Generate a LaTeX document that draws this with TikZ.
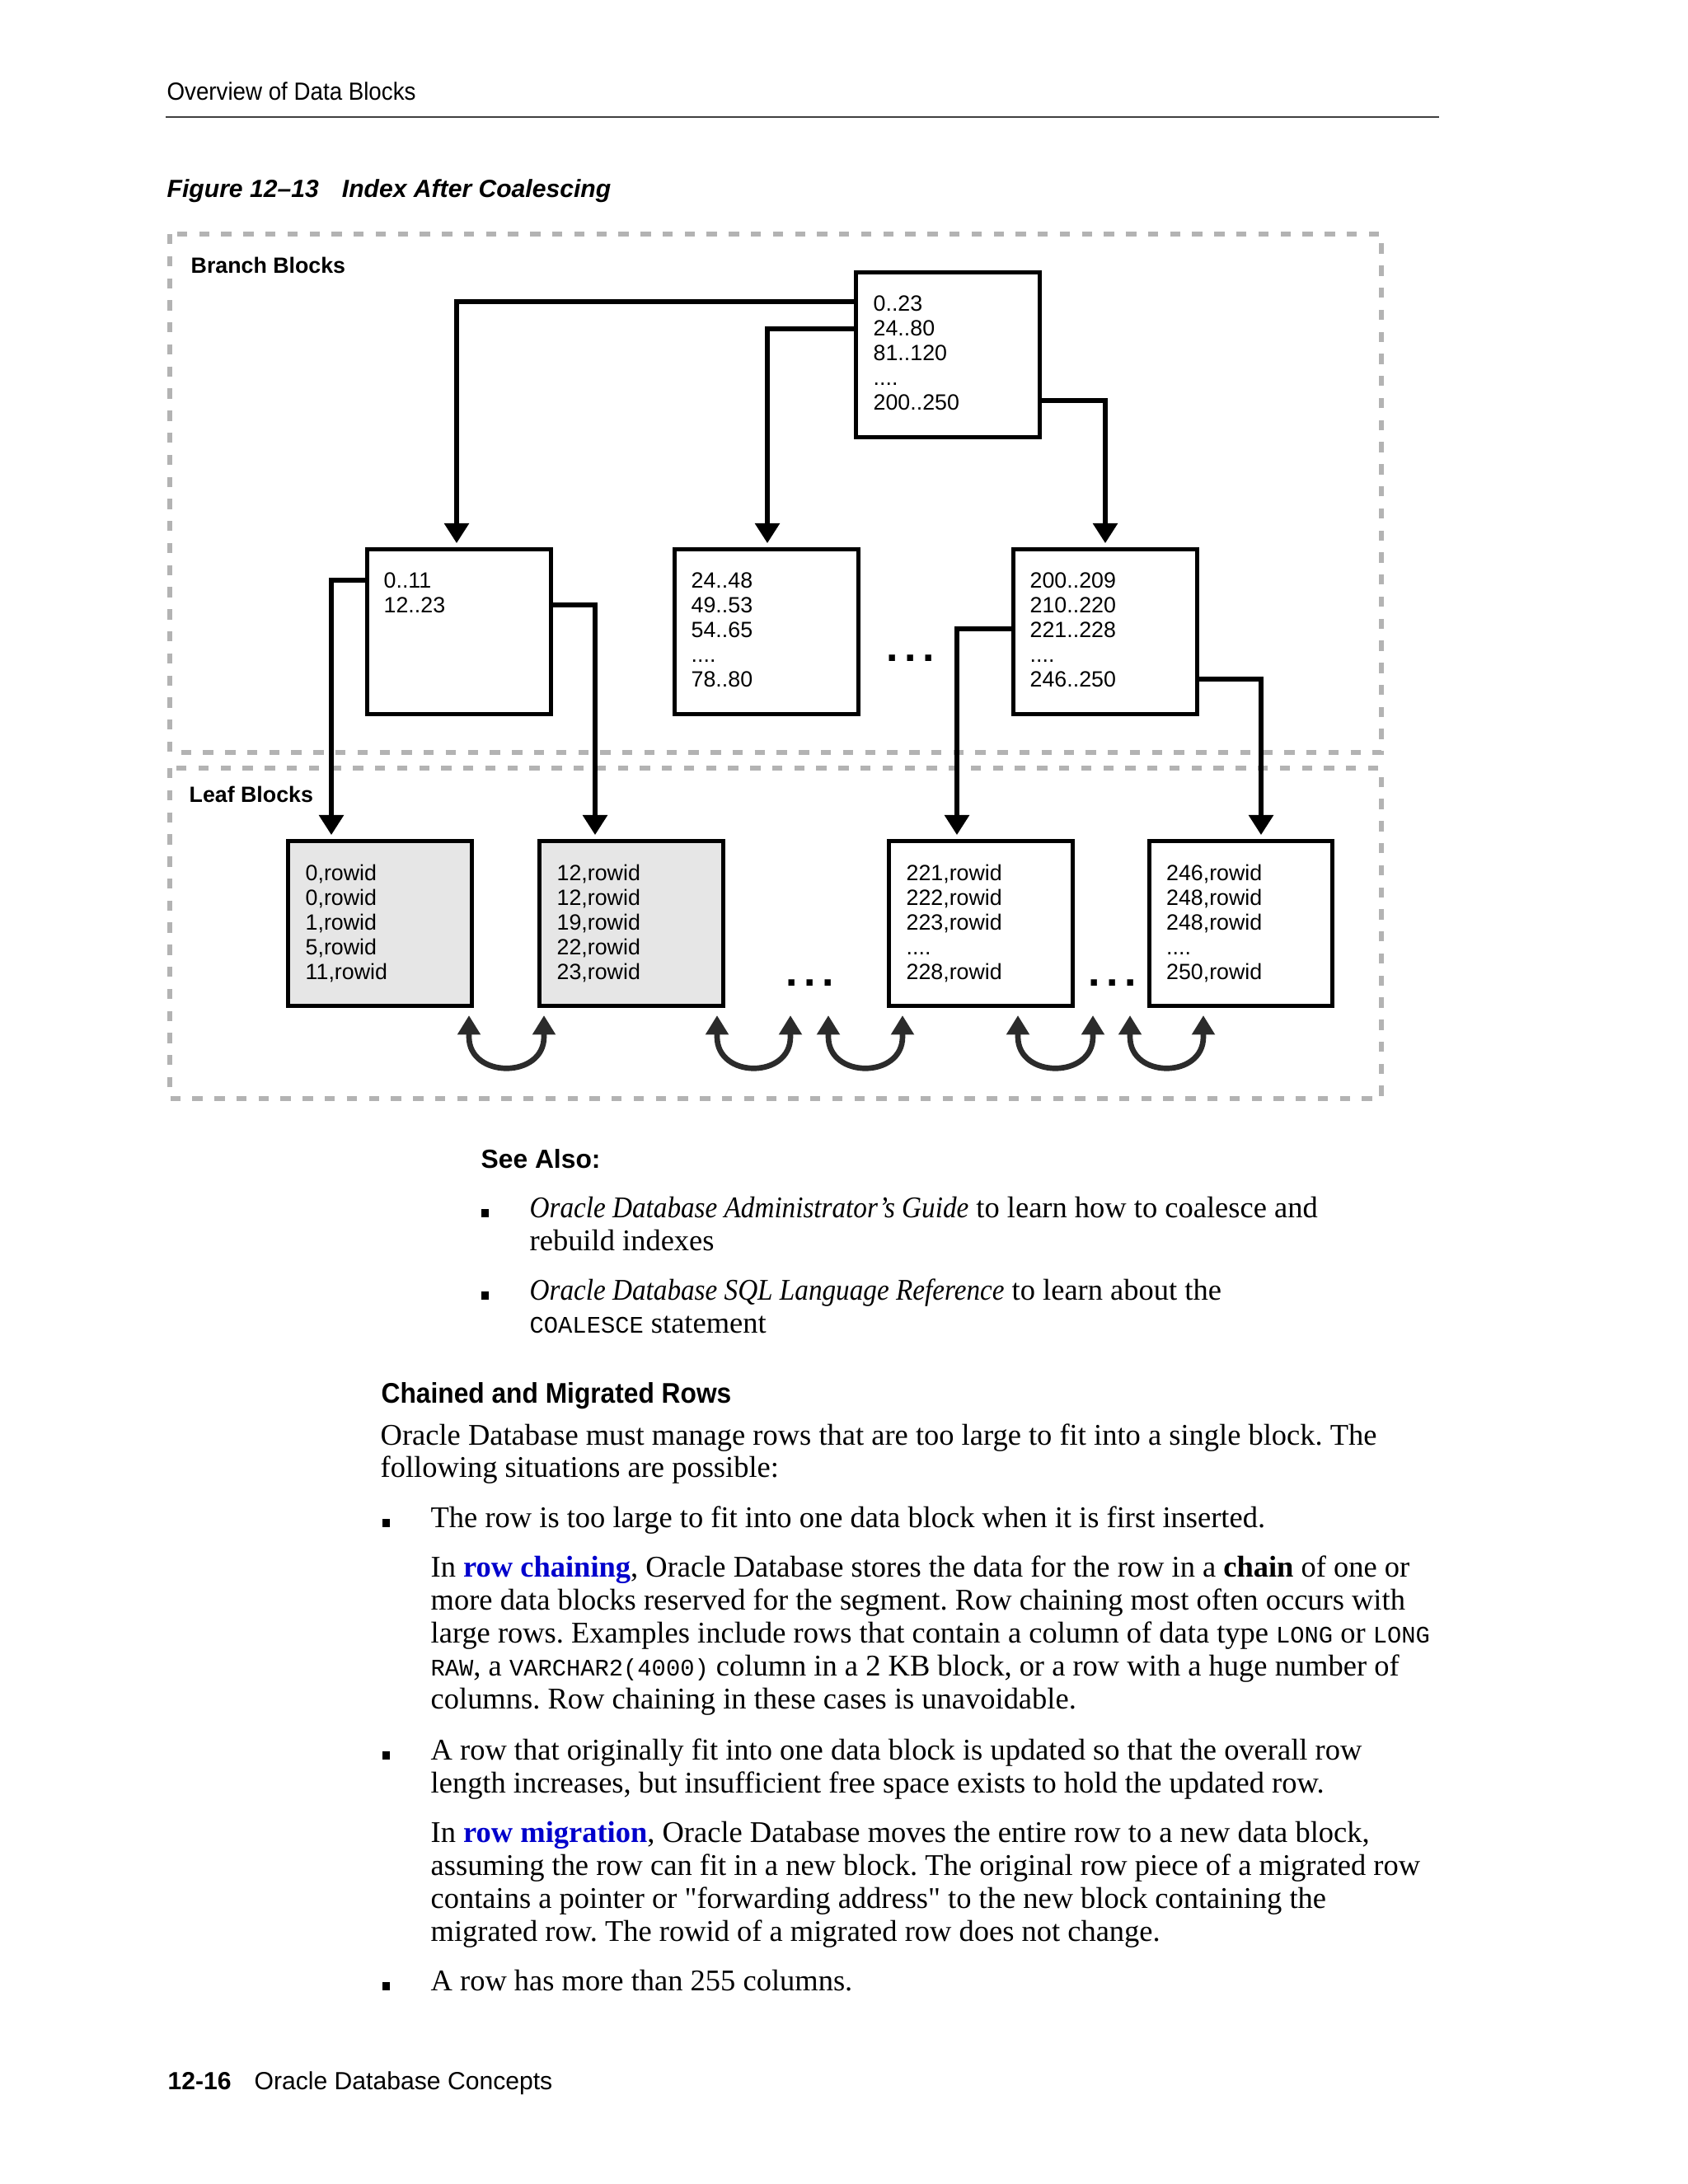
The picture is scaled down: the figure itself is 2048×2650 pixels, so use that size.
\documentclass[tikz,border=0pt]{standalone}
\usepackage{fontspec}
\setmainfont{Liberation Serif}[ItalicFeatures={FakeStretch=0.91}]
\setsansfont{Liberation Sans}
\setmonofont{Liberation Mono}
\newfontfamily\narrowsf{Liberation Sans}[FakeStretch=0.92]
\newfontfamily\rawserif{Liberation Serif}
\usepackage{xcolor}
\usetikzlibrary{arrows.meta,positioning,calc}
\definecolor{dashgray}{HTML}{B3B3B3}
\definecolor{leafgray}{HTML}{E6E6E6}
\definecolor{ugray}{HTML}{2B2B2B}
\definecolor{linkblue}{HTML}{0000CC}
\newcommand{\code}[1]{{\ttfamily\fontsize{8.6}{12}\selectfont #1}}
\newcommand{\term}[1]{\textcolor{linkblue}{\textbf{#1}}}
\newcommand{\sq}{{\rawserif"}}
\frenchspacing

\begin{document}
\begin{tikzpicture}[x=0.2988pt,y=-0.2988pt,
  blk/.style={draw,line width=1.6pt,minimum width=66.5pt,minimum height=59.6pt,inner sep=0pt},
  rows/.style={font=\sffamily\fontsize{8}{8.96}\selectfont,align=left,anchor=north west,inner sep=0pt},
  zone/.style={draw=dashgray,line width=1.8pt,dash pattern=on 3.7pt off 4.3pt},
  zonelabel/.style={font=\sffamily\bfseries\fontsize{8}{9}\selectfont,anchor=base west,inner sep=0pt},
  link/.style={draw,line width=1.6pt,-{Triangle[width=8.7pt,length=7.2pt]},shorten >=1.5pt},
  relink/.style={draw=ugray,line width=2pt,{Triangle[width=8pt,length=7pt]}-{Triangle[width=8pt,length=7pt]}},
  dotrow/.style={font=\sffamily\bfseries\fontsize{15.5}{16}\selectfont,anchor=base,inner sep=0pt},
  body/.style={anchor=base west,inner sep=0pt,font=\fontsize{10.9}{12}\selectfont},
  pagehead/.style={anchor=base west,inner sep=0pt,font=\narrowsf\fontsize{9}{10}\selectfont},
  figcap/.style={anchor=base west,inner sep=0pt,font=\sffamily\bfseries\itshape\fontsize{9}{11}\selectfont},
  sechead/.style={anchor=base west,inner sep=0pt,font=\sffamily\bfseries\fontsize{9.5}{11}\selectfont}]
  \useasboundingbox (0,0) rectangle (2048,2650);
  \fill[white] (0,0) rectangle (2048,2650);

  % page header
  \node[pagehead] (runhead) at (202,121) {Overview of Data Blocks};
  \draw[black!75,line width=0.6pt] (201,141.5) -- (1746,141.5);
  \node[figcap] (figtitle) at (202,239) {Figure 12--13\hspace{8.4pt}Index After Coalescing};

  % zones
  \draw[zone] (206,284) rectangle (1676,913);
  \draw[zone] (206,932) rectangle (1676,1333);
  \node[zonelabel] (branchlbl) at (231,331) {Branch Blocks};
  \node[zonelabel] (leaflbl) at (229,973) {Leaf Blocks};

  % branch blocks
  \node[blk] (rootblk) at (1150,430.5) {};
  \node[blk] (ablk) at (557,766.5) {};
  \node[blk] (bblk) at (930,766.5) {};
  \node[blk] (cblk) at (1341,766.5) {};
  \node[rows] (roottxt) at ($(rootblk.north west)+(23,30.5)$) {0..23\\24..80\\81..120\\....\\200..250};
  \node[rows] (atxt) at ($(ablk.north west)+(22,30.5)$) {0..11\\12..23};
  \node[rows] (btxt) at ($(bblk.north west)+(22,30.5)$) {24..48\\49..53\\54..65\\....\\78..80};
  \node[rows] (ctxt) at ($(cblk.north west)+(22,30.5)$) {200..209\\210..220\\221..228\\....\\246..250};
  \node[dotrow] (bcdots) at (1105,802) {.\hspace{2.3pt}.\hspace{2.3pt}.};

  % leaf blocks
  \node[blk,fill=leafgray] (leafa) at (461,1120.5) {};
  \node[blk,fill=leafgray] (leafb) at (766,1120.5) {};
  \node[blk] (leafc) at (1190,1120.5) {};
  \node[blk] (leafd) at (1505.5,1120.5) {};
  \node[rows] (leafatxt) at ($(leafa.north west)+(23,30.5)$) {0,rowid\\0,rowid\\1,rowid\\5,rowid\\11,rowid};
  \node[rows] (leafbtxt) at ($(leafb.north west)+(23,30.5)$) {12,rowid\\12,rowid\\19,rowid\\22,rowid\\23,rowid};
  \node[rows] (leafctxt) at ($(leafc.north west)+(23,30.5)$) {221,rowid\\222,rowid\\223,rowid\\....\\228,rowid};
  \node[rows] (leafdtxt) at ($(leafd.north west)+(23,30.5)$) {246,rowid\\248,rowid\\248,rowid\\....\\250,rowid};
  \node[dotrow] (bcleafdots) at (983,1196) {.\hspace{2.3pt}.\hspace{2.3pt}.};
  \node[dotrow] (cdleafdots) at (1350,1196) {.\hspace{2.3pt}.\hspace{2.3pt}.};

  % pointers
  \draw[link] ($(rootblk.north west)+(0,38)$) -| ($(ablk.north)+(-3,0)$);
  \draw[link] ($(rootblk.north west)+(0,71)$) -| ($(bblk.north)+(1,0)$);
  \draw[link] ($(rootblk.north east)+(0,158)$) -| (cblk.north);
  \draw[link] ($(ablk.north west)+(0,40)$) -| ($(leafa.north)+(-59,0)$);
  \draw[link] ($(ablk.north east)+(0,70)$) -| ($(leafb.north)+(-44,0)$);
  \draw[link] ($(cblk.north west)+(0,99)$) -| ($(leafc.north)+(-29,0)$);
  \draw[link] ($(cblk.north east)+(0,160)$) -| ($(leafd.north)+(24.5,0)$);

  % sibling links
  \foreach \i/\a/\b in {1/569/660,2/870/959,3/1005/1095,4/1235/1326,5/1371/1460}{
    \coordinate (ul\i) at (\a,1232);
    \coordinate (ur\i) at (\b,1232);
    \draw[relink] (ul\i) -- ++(0,26) .. controls +(0,51) and +(0,51) .. ($(ur\i)+(0,26)$) -- (ur\i);
  }

  % see also
  \node[sechead] (seealso) at (583,1417) {See Also:};
  \node[body] (sa1) at (642,1477) {\textit{Oracle Database Administrator’s Guide} to learn how to coalesce and};
  \node[body] (sa2) at (642,1517) {rebuild indexes};
  \node[body] (sa3) at (642,1577) {\textit{Oracle Database SQL Language Reference} to learn about the};
  \node[body] (sa4) at (642,1617) {\code{COALESCE} statement};
  \foreach \y in {1477,1577}{\fill (584,\y) rectangle ++(9,-10);}

  % chained and migrated rows
  \node[sechead,font=\narrowsf\bfseries\fontsize{10.3}{12}\selectfont] (rowshead) at (462,1702) {Chained and Migrated Rows};
  \node[body] (p1) at (461,1753) {Oracle Database must manage rows that are too large to fit into a single block. The};
  \node[body] (p2) at (461,1792) {following situations are possible:};
  \node[body] (ba) at (522,1853) {The row is too large to fit into one data block when it is first inserted.};
  \node[body] (ca) at (522,1913) {In \term{row chaining}, Oracle Database stores the data for the row in a \textbf{chain} of one or};
  \node[body] (cb) at (522,1953) {more data blocks reserved for the segment. Row chaining most often occurs with};
  \node[body] (cc) at (522,1993) {large rows. Examples include rows that contain a column of data type \code{LONG} or \code{LONG}};
  \node[body] (cd) at (522,2033) {\code{RAW}, a \code{VARCHAR2(4000)} column in a 2 KB block, or a row with a huge number of};
  \node[body] (ce) at (522,2073) {columns. Row chaining in these cases is unavoidable.};
  \node[body] (bb) at (522,2135) {A row that originally fit into one data block is updated so that the overall row};
  \node[body] (bb2) at (522,2175) {length increases, but insufficient free space exists to hold the updated row.};
  \node[body] (ma) at (522,2235) {In \term{row migration}, Oracle Database moves the entire row to a new data block,};
  \node[body] (mb) at (522,2275) {assuming the row can fit in a new block. The original row piece of a migrated row};
  \node[body] (mc) at (522,2315) {contains a pointer or \sq forwarding address\sq{} to the new block containing the};
  \node[body] (md) at (522,2355) {migrated row. The rowid of a migrated row does not change.};
  \node[body] (bc) at (522,2415) {A row has more than 255 columns.};
  \foreach \y in {1853,2135,2415}{\fill (464,\y) rectangle ++(9,-10);}

  % page footer
  \node[pagehead,font=\sffamily\bfseries\fontsize{9}{10}\selectfont] (pageno) at (203,2535) {12-16};
  \node[pagehead,font=\sffamily\fontsize{9}{10}\selectfont] (booktitle) at (308,2535) {Oracle Database Concepts};
\end{tikzpicture}
\end{document}
